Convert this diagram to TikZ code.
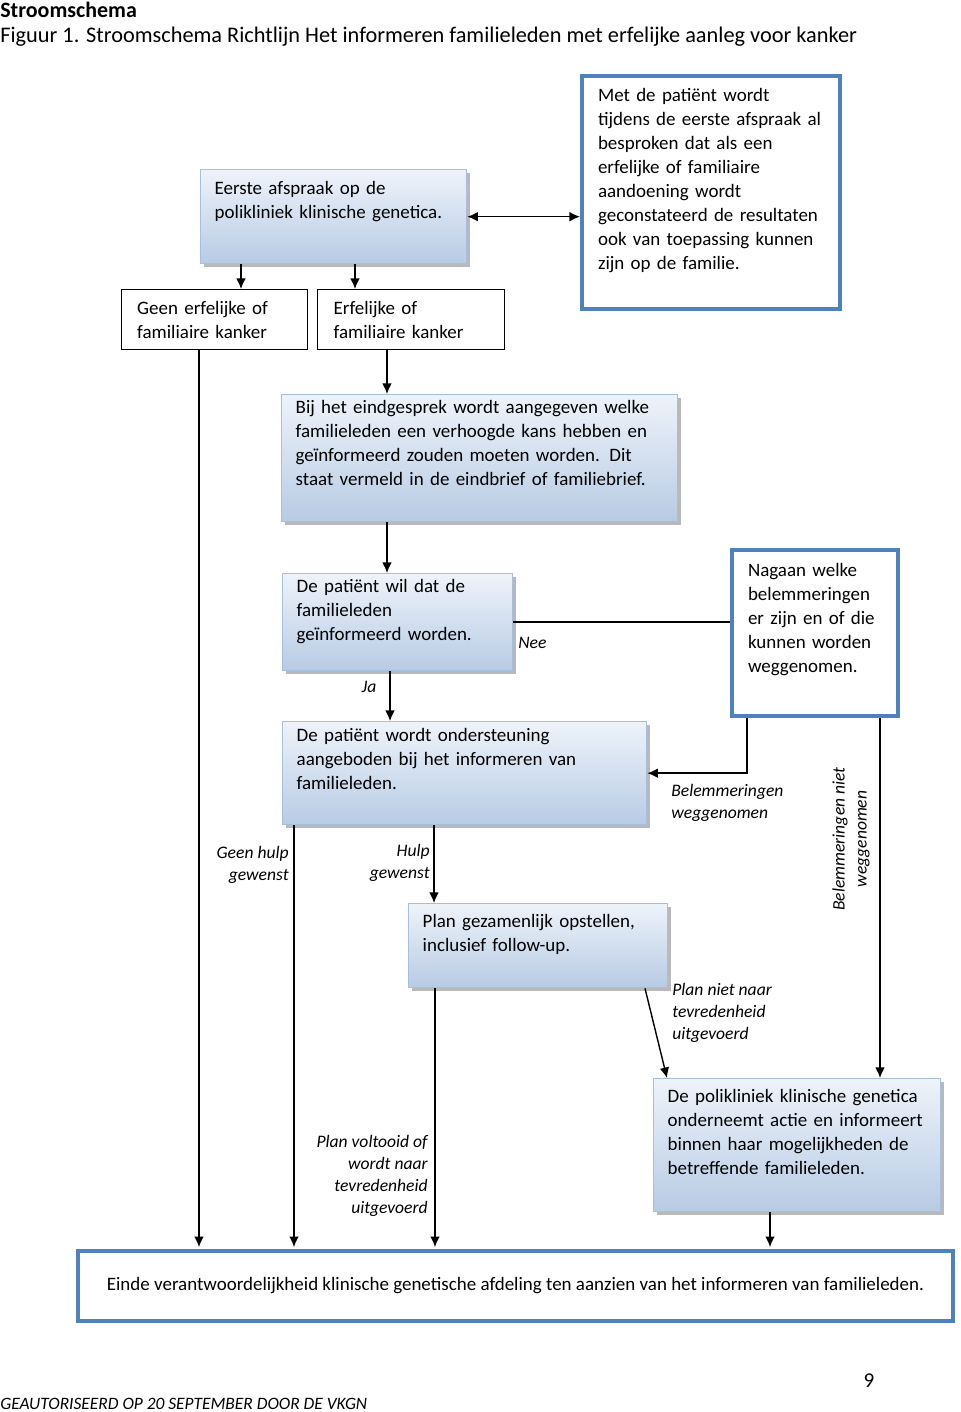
\documentclass[tikz,border=0pt]{standalone}
\usepackage{fontspec}
\setmainfont{Carlito}
\usepackage{tikz}
\usetikzlibrary{shapes, arrows, arrows.meta}
\usetikzlibrary{positioning, shadows}

\definecolor{boxblue}{HTML}{4F81BD}
\definecolor{shadetop}{HTML}{EEF3FA}
\definecolor{shadebot}{HTML}{B7CBE4}
\definecolor{shadeline}{HTML}{A7BFDE}

\begin{document}
\begin{tikzpicture}[
        x=0.02cm, y=-0.02cm,
        >={Latex[length=6pt,width=5.5pt]},
        every node/.style={font=\fontsize{10.8}{13.66}\selectfont},
        shadebox/.style={draw=shadeline, line width=0.8pt, top color=shadetop, bottom color=shadebot,
            drop shadow={shadow xshift=1.7pt, shadow yshift=-1.7pt, fill=black!50, opacity=0.55},
            anchor=north west, align=left, inner xsep=0.28cm, inner ysep=2pt},
        bluebox/.style={draw=boxblue, line width=2.3pt, fill=white, anchor=north west, align=left,
            inner xsep=0.32cm, inner ysep=2pt},
        plainbox/.style={draw, line width=0.8pt, anchor=north west, align=left, inner xsep=0.28cm},
        choice/.style={font=\fontsize{10}{12.5}\selectfont\itshape, inner sep=0pt},
        line/.style={line width=0.8pt},
        arrow/.style={line, ->}
    ]
    \useasboundingbox (0,0) rectangle (960,1412);

    \node[anchor=west, inner sep=0pt, font=\fontsize{12.5}{15}\selectfont\bfseries] (kop) at (0,10) {Stroomschema};
    \node[anchor=west, inner sep=0pt, font=\fontsize{12.7}{15}\selectfont] (figuur) at (0,37)
        {Figuur 1. Stroomschema Richtlijn Het informeren familieleden met erfelijke aanleg voor kanker};

    \node[shadebox, minimum width=5.32cm, minimum height=1.88cm, text width=4.76cm, text depth=1.15cm] (afspraak) at (200,169)
        {Eerste afspraak op de\\polikliniek klinische genetica.};
    \node[bluebox, minimum width=5.16cm, minimum height=4.66cm, text width=4.52cm, text depth=3.91cm] (bespreking) at (580,74)
        {Met de patiënt wordt\\tijdens de eerste afspraak al\\besproken dat als een\\erfelijke of familiaire\\aandoening wordt\\geconstateerd de resultaten\\ook van toepassing kunnen\\zijn op de familie.};
    \node[plainbox, minimum width=3.72cm, minimum height=1.2cm, text width=3.1cm] (geen) at (121,289)
        {Geen erfelijke of\\familiaire kanker};
    \node[plainbox, minimum width=3.74cm, minimum height=1.2cm, text width=3.1cm] (erfelijk) at (317,289)
        {Erfelijke of\\familiaire kanker};
    \node[shadebox, minimum width=7.92cm, minimum height=2.54cm, text width=7.36cm, text depth=2.07cm] (eindgesprek) at (281,394)
        {Bij het eindgesprek wordt aangegeven welke\\familieleden een verhoogde kans hebben en\\geïnformeerd zouden moeten worden. Dit\\staat vermeld in de eindbrief of familiebrief.};
    \node[shadebox, minimum width=4.6cm, minimum height=1.94cm, text width=4.04cm, text depth=1.45cm] (wil) at (282,573)
        {De patiënt wil dat de\\familieleden\\geïnformeerd worden.};
    \node[bluebox, minimum width=3.32cm, minimum height=3.32cm, text width=2.68cm, text depth=2.53cm] (nagaan) at (730,548)
        {Nagaan welke\\belemmeringen\\er zijn en of die\\kunnen worden\\weggenomen.};
    \node[shadebox, minimum width=7.28cm, minimum height=2.06cm, text width=6.72cm, text depth=1.55cm] (steun) at (282,721)
        {De patiënt wordt ondersteuning\\aangeboden bij het informeren van\\familieleden.};
    \node[shadebox, minimum width=5.18cm, minimum height=1.68cm, text width=4.62cm, text depth=1.01cm] (plan) at (408,903)
        {Plan gezamenlijk opstellen,\\inclusief follow-up.};
    \node[shadebox, minimum width=5.74cm, minimum height=2.66cm, text width=5.18cm, text depth=1.97cm] (polikliniek) at (653,1078)
        {De polikliniek klinische genetica\\onderneemt actie en informeert\\binnen haar mogelijkheden de\\betreffende familieleden.};
    \node[bluebox, minimum width=17.5cm, minimum height=1.4cm, align=center, text depth=2pt] (einde) at (76,1249)
        {Einde verantwoordelijkheid klinische genetische afdeling ten aanzien van het informeren van familieleden.};

    \draw[line, <->] (afspraak.east) -- (afspraak.east -| bespreking.west);
    \draw[arrow] (afspraak.south -| 241,0) -- (geen.north -| 241,0);
    \draw[arrow] (afspraak.south -| 355,0) -- (erfelijk.north -| 355,0);
    \draw[arrow, shorten >=1.1pt] (geen.south -| 199,0) -- (einde.north -| 199,0);
    \draw[arrow] (erfelijk.south -| 387,0) -- (eindgesprek.north -| 387,0);
    \draw[arrow] (eindgesprek.south -| 387,0) -- (wil.north -| 387,0);
    \draw[line] (wil.east) -- (wil.east -| nagaan.west);
    \draw[arrow] (wil.south -| 390,0) -- (steun.north -| 390,0);
    \draw[arrow] (nagaan.south -| 747,0) |- (steun.east);
    \draw[arrow] (nagaan.south -| 880,0) -- (polikliniek.north -| 880,0);
    \draw[arrow] (steun.south -| 434,0) -- (plan.north -| 434,0);
    \draw[arrow, shorten >=1.1pt] (steun.south -| 294,0) -- (einde.north -| 294,0);
    \draw[arrow, shorten >=1.1pt] (plan.south -| 435,0) -- (einde.north -| 435,0);
    \draw[arrow] (plan.south -| 645,0) -- (polikliniek.north -| 667,0);
    \draw[arrow, shorten >=1.1pt] (polikliniek.south -| 770,0) -- (einde.north -| 770,0);

    \node[choice, anchor=west] (nee) at (518,643) {Nee};
    \node[choice] (ja) at (369,687) {Ja};
    \node[choice, anchor=west, align=left] (weg) at (671,803) {Belemmeringen\\weggenomen};
    \node[choice, rotate=90, align=center] (nietweg) at (851,839) {Belemmeringen niet\\weggenomen};
    \node[choice, anchor=east, align=right] (geenhulp) at (289,865) {Geen hulp\\gewenst};
    \node[choice, anchor=east, align=right] (hulp) at (430,863) {Hulp\\gewenst};
    \node[choice, anchor=west, align=left] (nietplan) at (672,1013) {Plan niet naar\\tevredenheid\\uitgevoerd};
    \node[choice, anchor=east, align=right] (voltooid) at (428,1176) {Plan voltooid of\\wordt naar\\tevredenheid\\uitgevoerd};

    \node[anchor=west, inner sep=0pt, font=\fontsize{9.9}{12}\selectfont\itshape] (auteur) at (0,1404)
        {GEAUTORISEERD OP 20 SEPTEMBER DOOR DE VKGN};
    \node[font=\fontsize{12}{14}\selectfont] (pagina) at (869,1381) {9};
\end{tikzpicture}
\end{document}
